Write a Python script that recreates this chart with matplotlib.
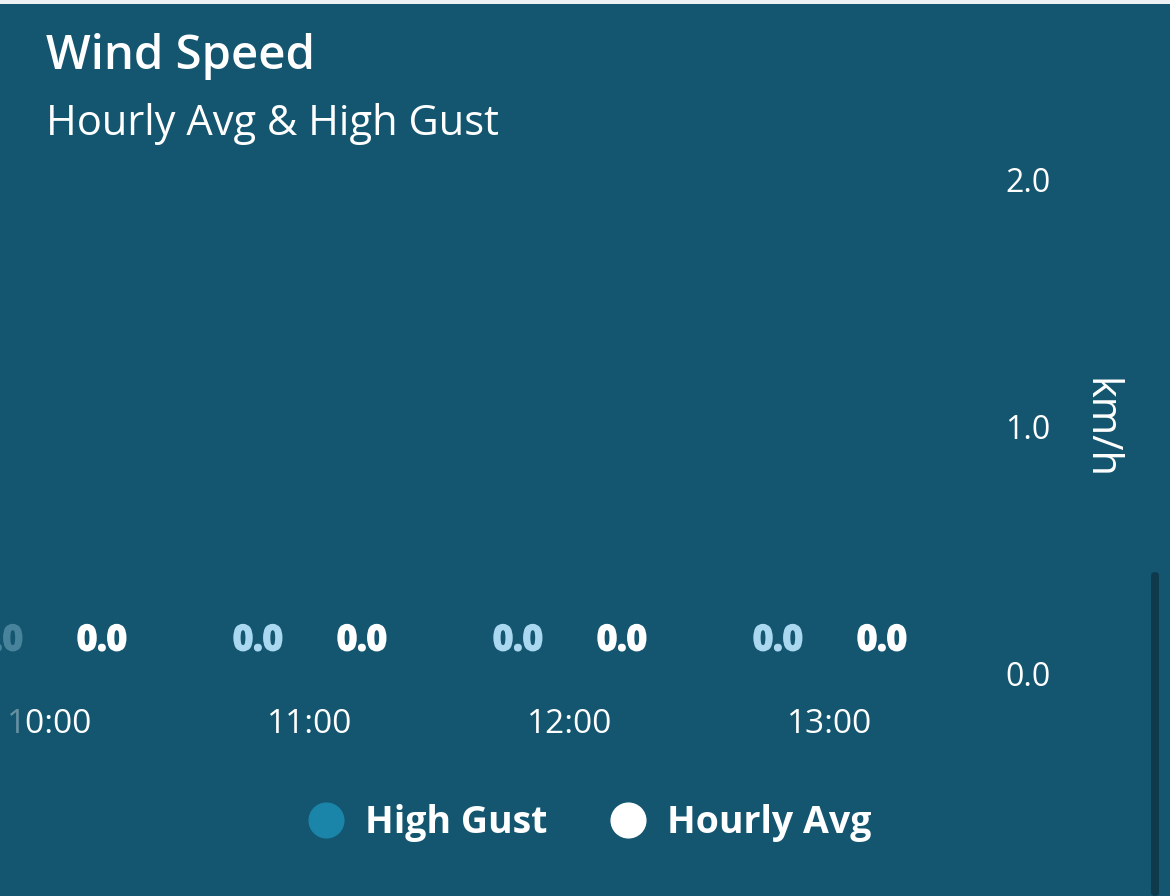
import matplotlib
matplotlib.use("Agg")
import matplotlib.pyplot as plt
import matplotlib.patheffects as pe
from matplotlib.lines import Line2D
from matplotlib.patches import Rectangle, FancyBboxPatch
import numpy as np

plt.rcParams['font.family'] = ['Open Sans', 'DejaVu Sans']

# data
hours = [10, 11, 12, 13]
hour_labels = ["10:00", "11:00", "12:00", "13:00"]
high_gust = [0.0, 0.0, 0.0, 0.0]
hourly_avg = [0.0, 0.0, 0.0, 0.0]
y_ticks = [0.0, 1.0, 2.0]

bg = "#14566f"
gust_col = "#1a85a8"
gust_lbl = "#a9d8f0"
W, H = 1170, 896

fig = plt.figure(figsize=(W / 100, H / 100), dpi=100, facecolor=bg)
ax = fig.add_axes([0, (H - 673) / H, 940 / W, (673 - 180) / H])
ax.set_facecolor(bg)

x = np.array(hours, dtype=float)
off = 0.2
ax.bar(x - off, high_gust, width=0.35, color=gust_col)
ax.bar(x + off, hourly_avg, width=0.35, color="white")

for vals, dx, col in [(high_gust, -off, gust_lbl), (hourly_avg, off, "white")]:
    for xi, v in zip(x, vals):
        ax.annotate(f"{v:.1f}", (xi + dx, v), xytext=(0, 23), textcoords="offset points",
                    ha="center", va="center", color=col, fontsize=25, fontweight="bold",
                    annotation_clip=False,
                    path_effects=[pe.withStroke(linewidth=1.5, foreground=col)])

ax.set_xlim(10 - 50 / 260, 10 + 890 / 260)
ax.set_ylim(0, 2)
ax.set_xticks(x)
ax.set_xticklabels(hour_labels)
ax.set_yticks(y_ticks)
ax.set_yticklabels([f"{t:.1f}" for t in y_ticks])
ax.yaxis.tick_right()
ax.tick_params(axis="y", length=0, pad=47, labelsize=23, labelcolor="white")
ax.tick_params(axis="x", length=0, pad=25, labelsize=24, labelcolor="white")
for s in ax.spines.values():
    s.set_visible(False)

fig.text(1099 / W, 1 - 429 / H, "km/h", rotation=270, color="white", fontsize=30,
         ha="center", va="center")

fig.text(46 / W, 1 - 57 / H, "Wind Speed", color="white", fontsize=34,
         fontweight="semibold", va="center", ha="left")
fig.text(46 / W, 1 - 124 / H, "Hourly Avg & High Gust", color="white", fontsize=30,
         va="center", ha="left")

handles = [
    Line2D([], [], marker="o", linestyle="", markersize=25, markerfacecolor=gust_col,
           markeredgecolor=gust_col, label="High Gust"),
    Line2D([], [], marker="o", linestyle="", markersize=25, markerfacecolor="white",
           markeredgecolor="white", label="Hourly Avg"),
]
leg = fig.legend(handles=handles, loc="center", bbox_to_anchor=(580 / W, 1 - 823 / H),
                 ncol=2, frameon=False, handletextpad=0.05, columnspacing=1.15,
                 prop={"size": 27, "weight": "bold"})
for t in leg.get_texts():
    t.set_color("white")

# left fade, top strip, scrollbar
fig.patches.append(Rectangle((0, 0), 24 / W, 1, transform=fig.transFigure,
                             facecolor=bg, alpha=0.65, edgecolor="none", zorder=10))
fig.patches.append(Rectangle((0, 1 - 4 / H), 1, 4 / H, transform=fig.transFigure,
                             facecolor="#eef1f3", edgecolor="none", zorder=10))
fig.patches.append(FancyBboxPatch((1151 / W, 0), 8 / W, (896 - 572) / H,
                                  boxstyle="round,pad=0,rounding_size=0.004",
                                  transform=fig.transFigure, facecolor="#0e3a4c",
                                  edgecolor="none", zorder=10))

fig.savefig("out.png", dpi=100, facecolor=bg)
